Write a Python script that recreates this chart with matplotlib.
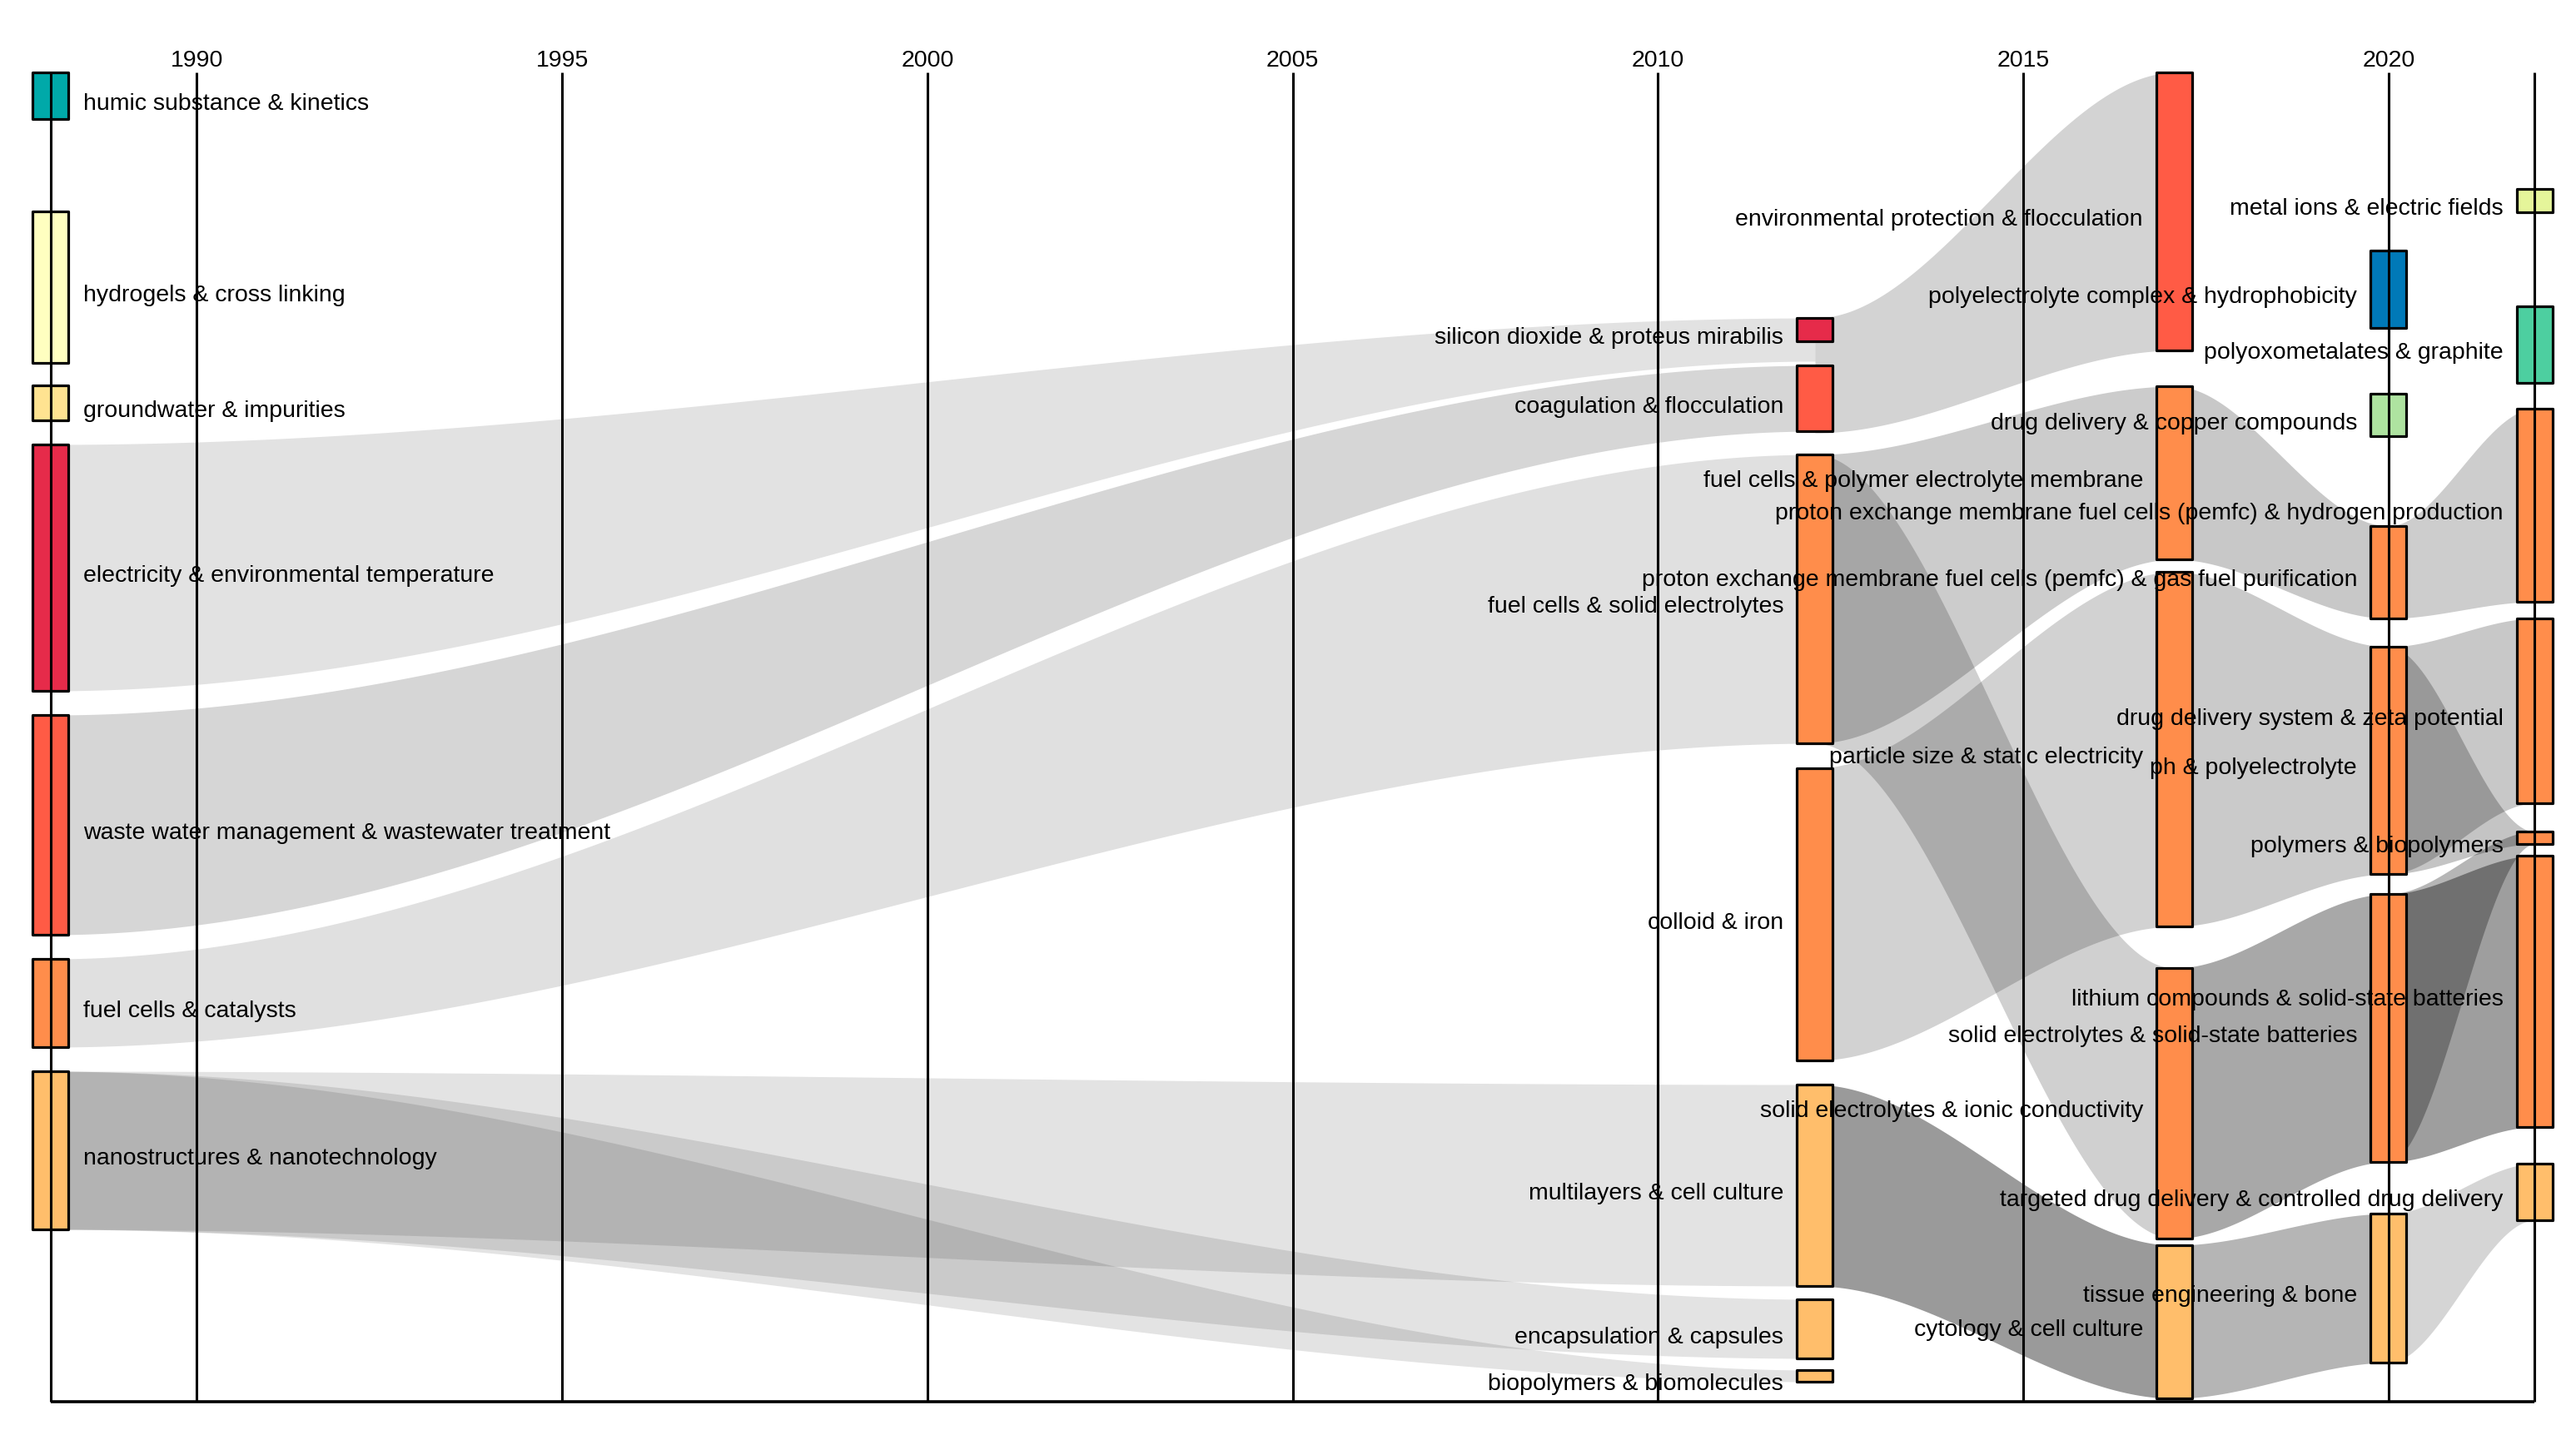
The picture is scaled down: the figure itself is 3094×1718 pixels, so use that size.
"""Thematic evolution timeline: themes per period linked by grey flows."""
import matplotlib

matplotlib.use("Agg")
import matplotlib.pyplot as plt
import numpy as np
from matplotlib.patches import Rectangle

plt.rcParams["font.family"] = ["Liberation Sans", "DejaVu Sans"]

# --- data -----------------------------------------------------------------
node_names = [
    # 1988
    "humic substance & kinetics",
    "hydrogels & cross linking",
    "groundwater & impurities",
    "electricity & environmental temperature",
    "waste water management & wastewater treatment",
    "fuel cells & catalysts",
    "nanostructures & nanotechnology",
    # 2012
    "silicon dioxide & proteus mirabilis",
    "coagulation & flocculation",
    "fuel cells & solid electrolytes",
    "colloid & iron",
    "multilayers & cell culture",
    "encapsulation & capsules",
    "biopolymers & biomolecules",
    # 2017
    "environmental protection & flocculation",
    "fuel cells & polymer electrolyte membrane",
    "particle size & static electricity",
    "solid electrolytes & ionic conductivity",
    "cytology & cell culture",
    # 2020
    "polyelectrolyte complex & hydrophobicity",
    "drug delivery & copper compounds",
    "proton exchange membrane fuel cells (pemfc) & gas fuel purification",
    "ph & polyelectrolyte",
    "solid electrolytes & solid-state batteries",
    "tissue engineering & bone",
    # 2022
    "metal ions & electric fields",
    "polyoxometalates & graphite",
    "proton exchange membrane fuel cells (pemfc) & hydrogen production",
    "drug delivery system & zeta potential",
    "polymers & biopolymers",
    "lithium compounds & solid-state batteries",
    "targeted drug delivery & controlled drug delivery",
]
node_years = [1988] * 7 + [2012.15] * 7 + [2017.07] * 5 + [2020] * 6 + [2022] * 7
node_sizes = [56, 182, 42, 296, 264, 106, 190,
              28, 79, 347, 351, 242, 71, 14,
              334, 208, 426, 325, 184,
              93, 51, 111, 273, 322, 179,
              28, 92, 232, 222, 15, 326, 68]

CRIMSON, RED, ORANGE, LORANGE = "#E62B4A", "#FF5B45", "#FF8D4B", "#FFBE6B"
node_colors = ["#00A9A9", "#FFFFC0", "#FFE391", CRIMSON, RED, ORANGE, LORANGE,
               CRIMSON, RED, ORANGE, ORANGE, LORANGE, LORANGE, LORANGE,
               RED, ORANGE, ORANGE, ORANGE, LORANGE,
               "#0079B8", "#AEE3A0", ORANGE, ORANGE, ORANGE, LORANGE,
               "#E5F59A", "#4DCFA0", ORANGE, ORANGE, ORANGE, ORANGE, LORANGE]

link_src = [
    "electricity & environmental temperature",
    "waste water management & wastewater treatment",
    "fuel cells & catalysts",
    "nanostructures & nanotechnology",
    "nanostructures & nanotechnology",
    "nanostructures & nanotechnology",
    "silicon dioxide & proteus mirabilis",
    "fuel cells & solid electrolytes",
    "fuel cells & solid electrolytes",
    "colloid & iron",
    "multilayers & cell culture",
    "fuel cells & polymer electrolyte membrane",
    "particle size & static electricity",
    "solid electrolytes & ionic conductivity",
    "cytology & cell culture",
    "proton exchange membrane fuel cells (pemfc) & gas fuel purification",
    "ph & polyelectrolyte",
    "ph & polyelectrolyte",
    "solid electrolytes & solid-state batteries",
    "solid electrolytes & solid-state batteries",
    "tissue engineering & bone",
]
link_tgt = [
    "silicon dioxide & proteus mirabilis",
    "coagulation & flocculation",
    "fuel cells & solid electrolytes",
    "multilayers & cell culture",
    "encapsulation & capsules",
    "biopolymers & biomolecules",
    "environmental protection & flocculation",
    "fuel cells & polymer electrolyte membrane",
    "solid electrolytes & ionic conductivity",
    "particle size & static electricity",
    "cytology & cell culture",
    "proton exchange membrane fuel cells (pemfc) & gas fuel purification",
    "ph & polyelectrolyte",
    "solid electrolytes & solid-state batteries",
    "tissue engineering & bone",
    "proton exchange membrane fuel cells (pemfc) & hydrogen production",
    "drug delivery system & zeta potential",
    "polymers & biopolymers",
    "polymers & biopolymers",
    "lithium compounds & solid-state batteries",
    "targeted drug delivery & controlled drug delivery",
]
# grey level of a single flow (0-255)
link_grey = [226, 214, 224, 227, 227, 227, 211, 204, 208, 210,
             154, 200, 202, 168, 181, 205, 200, 196, 182, 158, 213]
# flow ends that are wider than their node box (link index -> width)
link_src_width = {6: 138}
link_tgt_width = {0: 52}

grid_years = [1990, 1995, 2000, 2005, 2010, 2015, 2020]

# --- layout ---------------------------------------------------------------
PLOT_TOP, PLOT_BOTTOM = 87, 1684
X_FIRST, X_LAST = 1988, 2022
HALF_W = 0.245
# empty space above each node inside its column
node_gaps = [0, 111, 27, 29, 29, 29, 29,
             295, 29, 28, 30, 29, 16, 14,
             0, 43, 15, 50, 8,
             214, 79, 108, 34, 24, 62,
             140, 113, 31, 20, 34, 14, 44]

tops = {}
cursor = {}
for name, yr, size, gap in zip(node_names, node_years, node_sizes, node_gaps):
    y = cursor.get(yr, PLOT_TOP) + gap
    tops[name] = y
    cursor[yr] = y + size
size_of = dict(zip(node_names, node_sizes))
year_of = dict(zip(node_names, node_years))

fig = plt.figure(figsize=(30.94, 17.18), dpi=100)
ax = fig.add_axes([0, 0, 1, 1])
ax.set_xlim(1987.305, 2022.567)
ax.set_ylim(1718, 0)
ax.axis("off")

# flows
for i, (s, t, g) in enumerate(zip(link_src, link_tgt, link_grey)):
    x0, x1 = year_of[s], year_of[t]
    xs = np.linspace(x0, x1, 300)
    u = (xs - x0) / (x1 - x0)
    w = 3 * u**2 - 2 * u**3
    s_top, t_top = tops[s], tops[t]
    s_bot = s_top + link_src_width.get(i, size_of[s])
    t_bot = t_top + link_tgt_width.get(i, size_of[t])
    top = s_top + (t_top - s_top) * w
    bot = s_bot + (t_bot - s_bot) * w
    ax.fill_between(xs, top, bot, color="black", alpha=1 - g / 255, lw=0, zorder=1)

# nodes
for name, yr, size, col in zip(node_names, node_years, node_sizes, node_colors):
    ax.add_patch(Rectangle((yr - HALF_W, tops[name]), 2 * HALF_W, size, facecolor=col,
                           edgecolor="black", lw=2.3, joinstyle="round", zorder=3))
    cy = tops[name] + size / 2 + 10
    if yr == X_FIRST:
        ax.text(yr + 0.45, cy, name, ha="left", va="center", fontsize=20.5, zorder=5)
    else:
        ax.text(yr - 0.43, cy, name, ha="right", va="center", fontsize=20.5, zorder=5)

# time axis
ax.vlines(grid_years + [X_FIRST, X_LAST], PLOT_TOP, PLOT_BOTTOM, color="black", lw=2.2, zorder=4)
ax.hlines(PLOT_BOTTOM, X_FIRST, X_LAST, color="black", lw=2.6, zorder=4)
for yr in grid_years:
    ax.text(yr, 73, str(yr), ha="center", va="center", fontsize=20.5)

fig.savefig("out.png", dpi=100)
